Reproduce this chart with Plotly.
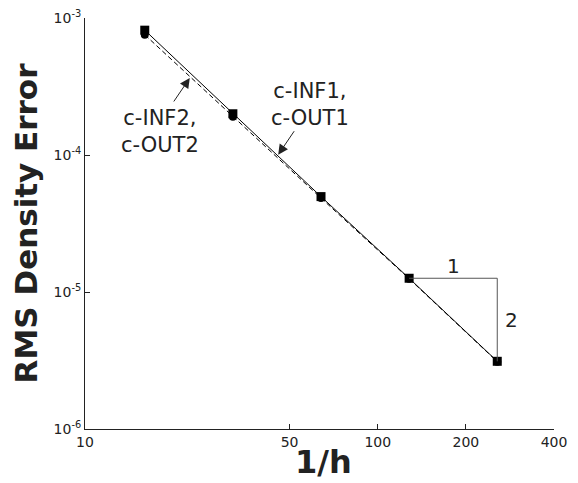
import math
import plotly.graph_objects as go

# Grid resolution (1/h) and RMS density error for the two boundary-condition sets
inv_h = [16, 32, 64, 128, 256]
err_set1 = [8.15e-4, 2.00e-4, 4.97e-5, 1.26e-5, 3.12e-6]   # c-INF1, c-OUT1
err_set2 = [7.55e-4, 1.90e-4, 4.85e-5, 1.25e-5, 3.10e-6]   # c-INF2, c-OUT2

x_ticks = [10, 50, 100, 200, 400]
x_ticktext = ["10", "50", "100", "200", "400"]
y_ticks = [1e-6, 1e-5, 1e-4, 1e-3]
y_ticktext = ["10<sup>-6</sup>", "10<sup>-5</sup>", "10<sup>-4</sup>", "10<sup>-3</sup>"]

FONT = "DejaVu Sans"
INK = "#222222"

fig = go.Figure()

fig.add_trace(go.Scatter(
    x=inv_h, y=err_set2, mode="lines+markers",
    line=dict(color="black", width=1, dash="5px,3px"),
    marker=dict(symbol="circle", size=8, color="black"),
    showlegend=False,
))
fig.add_trace(go.Scatter(
    x=inv_h, y=err_set1, mode="lines+markers",
    line=dict(color="black", width=1),
    marker=dict(symbol="square", size=9, color="black"),
    showlegend=False,
))

# Second-order slope triangle on the last two grid levels
fig.add_trace(go.Scatter(
    x=[inv_h[3], inv_h[4], inv_h[4]],
    y=[err_set1[3], err_set1[3], err_set1[4]],
    mode="lines", line=dict(color="#555555", width=1),
    showlegend=False, hoverinfo="skip",
))

tri_xmid = math.log10(math.sqrt(inv_h[3] * inv_h[4]))
tri_ymid = math.log10(math.sqrt(err_set1[3] * err_set1[4]))

# plot-area geometry (pixels)
L, R, T, B = 85, 24, 18, 54
W, H = 578, 483
pw, ph = W - L - R, H - T - B


def px_to_paper(xp, yp):
    return (xp - L) / pw, 1 - (yp - T) / ph


annotations = [
    dict(x=tri_xmid, y=math.log10(err_set1[3]), xref="x", yref="y",
         text="1", showarrow=False, yshift=12, font=dict(size=20, color=INK)),
    dict(x=math.log10(inv_h[4]), y=tri_ymid, xref="x", yref="y",
         text="2", showarrow=False, xshift=14, font=dict(size=20, color=INK)),
    # arrow pointing to the dashed curve
    dict(x=math.log10(22.8), y=math.log10(3.65e-4), xref="x", yref="y",
         text="", showarrow=True, ax=-17, ay=25, arrowhead=2, arrowsize=2,
         arrowwidth=1, arrowcolor=INK, standoff=0),
    # arrow pointing to the solid curve
    dict(x=math.log10(45.7), y=math.log10(1.005e-4), xref="x", yref="y",
         text="", showarrow=True, ax=17, ay=-25, arrowhead=2, arrowsize=2,
         arrowwidth=1, arrowcolor=INK, standoff=0),
]

for label, xp, yp in [("c-INF2,<br>c-OUT2", 160, 131), ("c-INF1,<br>c-OUT1", 310, 105)]:
    xf, yf = px_to_paper(xp, yp)
    annotations.append(dict(x=xf, y=yf, xref="paper", yref="paper", text=label,
                            xanchor="center", yanchor="middle", showarrow=False,
                            font=dict(size=21, color=INK)))

# x-axis title placed below the tick labels
xf, yf = px_to_paper(323, 462)
annotations.append(dict(x=xf, y=yf, xref="paper", yref="paper", text="<b>1/h</b>",
                        xanchor="center", yanchor="middle", showarrow=False,
                        borderpad=0, font=dict(size=32, color=INK)))

fig.update_layout(
    width=W, height=H,
    margin=dict(l=L, r=R, t=T, b=B, pad=0, autoexpand=False),
    paper_bgcolor="white", plot_bgcolor="white",
    font=dict(family=FONT, color=INK, size=14),
    annotations=annotations,
    xaxis=dict(
        type="log", range=[1, math.log10(400)],
        tickvals=x_ticks, ticktext=x_ticktext,
        ticks="inside", ticklen=5, tickcolor=INK, tickwidth=1,
        showline=True, linecolor=INK, linewidth=1,
        showgrid=False, zeroline=False, mirror=False, automargin=False,
        tickfont=dict(size=14, color=INK),
    ),
    yaxis=dict(
        type="log", range=[-6, -3],
        tickvals=y_ticks, ticktext=y_ticktext,
        ticks="inside", ticklen=5, tickcolor=INK, tickwidth=1,
        showline=True, linecolor=INK, linewidth=1,
        showgrid=False, zeroline=False, mirror=False, automargin=False,
        tickfont=dict(size=14, color=INK),
        title=dict(text="<b>RMS Density Error</b>", font=dict(size=31, color=INK), standoff=6),
    ),
)

fig.write_html("out.html")
